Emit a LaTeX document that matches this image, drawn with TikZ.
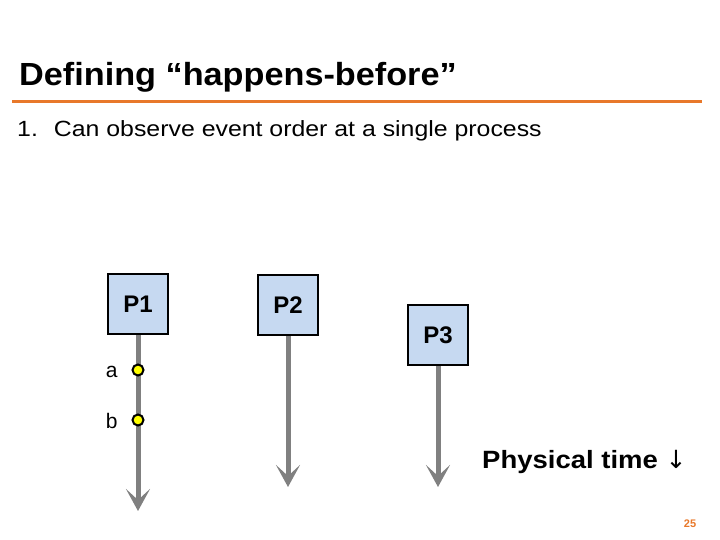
\documentclass[tikz,border=0pt]{standalone}
\usepackage{fontspec}
\setmainfont{Liberation Sans}
\newfontfamily\arrowfont{DejaVu Sans}
\usetikzlibrary{arrows.meta}
\definecolor{orangeline}{HTML}{E8782A}
\definecolor{boxblue}{HTML}{C6D9F1}
\definecolor{timegray}{HTML}{808080}
\definecolor{evyellow}{HTML}{FFFF00}
\tikzset{
  proc/.style={draw=black, line width=2pt, fill=boxblue, minimum width=60pt, minimum height=60pt, inner sep=0pt, font=\fontsize{24}{24}\selectfont\bfseries},
  timeline/.style={draw=timegray, line width=5pt, -{Stealth[length=22pt,width=24pt,inset=11pt]}},
  event/.style={circle, draw=black, line width=2pt, fill=evyellow, minimum size=11pt, inner sep=0pt},
  evlabel/.style={font=\fontsize{21}{21}\selectfont, anchor=east}
}
\begin{document}
\begin{tikzpicture}[x=1pt,y=-1pt]
\useasboundingbox (0,0) rectangle (720,540);
\node[anchor=base west, inner sep=0pt, font=\fontsize{32}{32}\selectfont\bfseries] (title) at (19,86) {\addfontfeature{FakeStretch=1.07}Defining “happens-before”};
\draw[orangeline, line width=3pt] (12,102) -- (702,102);
\node[anchor=base west, inner sep=0pt, font=\fontsize{22}{22}\selectfont] (item) at (17,137) {\addfontfeature{FakeStretch=1.13}1.\hspace{16pt}Can observe event order at a single process};
\node[proc] (p1) at (138,304) {P1};
\node[proc] (p2) at (288,305) {P2};
\node[proc] (p3) at (438,335) {P3};
\coordinate (e1) at (138,511);
\coordinate (e2) at (288,487);
\coordinate (e3) at (438,487);
\draw[timeline] (p1.south) -- (e1);
\draw[timeline] (p2.south) -- (e2);
\draw[timeline] (p3.south) -- (e3);
\node[event] (a) at (138,370) {};
\node[event] (b) at (138,420) {};
\node[evlabel] (la) at (121,372) {a};
\node[evlabel] (lb) at (121,421) {b};
\node[anchor=base west, inner sep=0pt, font=\fontsize{25}{25}\selectfont\bfseries] (time) at (482,468) {\addfontfeature{FakeStretch=1.1}Physical time {\arrowfont\mdseries ↓}};
\node[anchor=center, inner sep=0pt, text=orangeline, font=\fontsize{11}{11}\selectfont\bfseries] (page) at (690,524) {25};
\end{tikzpicture}
\end{document}
